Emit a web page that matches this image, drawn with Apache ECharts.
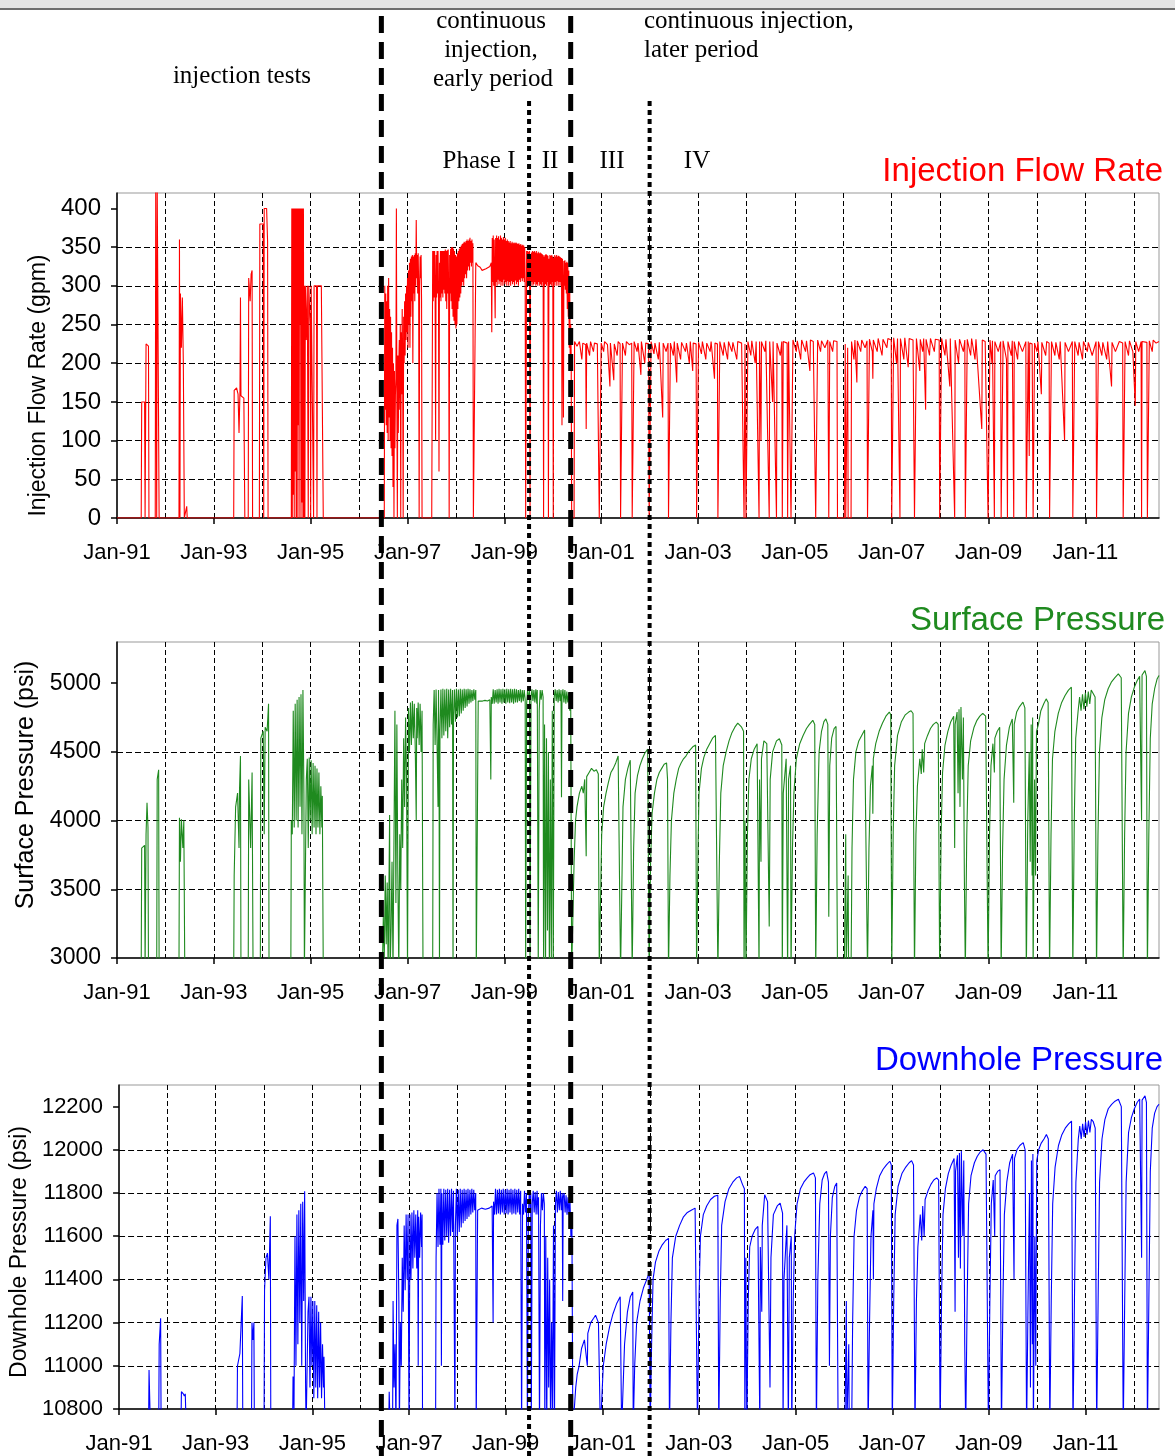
<!DOCTYPE html>
<html>
<head>
<meta charset="utf-8">
<title>Injection history</title>
<script src="https://cdn.jsdelivr.net/npm/echarts@6/dist/echarts.min.js"></script>
<style>
  html, body { margin: 0; padding: 0; background: #fff; }
  #main { width: 1175px; height: 1456px; }
</style>
</head>
<body>
<div id="main"></div>
<script>
// all x values are decimal years
// injection flow rate, gpm
const flowRate = [
  [1991.00, 0], [1991.50, 0], [1991.51, 150], [1991.57, 150], [1991.58, 0],
  [1991.59, 0], [1991.60, 225], [1991.65, 222], [1991.66, 0],
  [1991.79, 0], [1991.80, 430], [1991.82, 0], [1991.83, 430], [1991.86, 430], [1991.87, 0],
  [1992.28, 0], [1992.29, 360], [1992.30, 0], [1992.31, 290], [1992.33, 220], [1992.35, 285], [1992.37, 200], [1992.39, 0],
  [1992.43, 0], [1992.44, 15], [1992.45, 0],
  [1993.41, 0], [1993.42, 165], [1993.47, 168], [1993.50, 160], [1993.52, 110], [1993.54, 165], [1993.55, 285], [1993.56, 158], [1993.62, 155], [1993.64, 0],
  [1993.71, 0], [1993.72, 310], [1993.75, 280], [1993.77, 315], [1993.79, 320], [1993.80, 0],
  [1993.94, 0], [1993.95, 380], [1994.02, 380], [1994.03, 0], [1994.04, 400], [1994.09, 400], [1994.11, 357], [1994.12, 0],
  [1994.60, 0], [1994.61, 400], [1994.62, 0], [1994.63, 400], [1994.64, 30], [1994.65, 400], [1994.66, 0], [1994.67, 400],
  [1994.68, 60], [1994.69, 400], [1994.70, 0], [1994.71, 400], [1994.72, 0], [1994.73, 400], [1994.74, 120], [1994.75, 400],
  [1994.76, 0], [1994.77, 400], [1994.78, 250], [1994.79, 400], [1994.80, 0], [1994.81, 400], [1994.82, 20], [1994.83, 400],
  [1994.84, 0], [1994.85, 400], [1994.86, 0], [1994.87, 300], [1994.88, 0], [1994.89, 300], [1994.91, 230], [1994.93, 300],
  [1994.95, 0], [1994.96, 300], [1994.99, 250], [1995.00, 0], [1995.01, 300], [1995.05, 300], [1995.06, 0], [1995.07, 300],
  [1995.12, 300], [1995.13, 0], [1995.14, 300], [1995.22, 300], [1995.26, 0],
  [1996.52, 0], [1996.53, 300], [1996.54, 140], [1996.55, 290], [1996.56, 120], [1996.57, 280], [1996.58, 110], [1996.59, 300],
  [1996.60, 100], [1996.61, 310], [1996.62, 130], [1996.63, 270], [1996.64, 100], [1996.65, 260], [1996.66, 90], [1996.67, 240],
  [1996.68, 80], [1996.69, 220], [1996.70, 40], [1996.71, 200], [1996.72, 0], [1996.73, 190], [1996.74, 90], [1996.75, 160],
  [1996.76, 180], [1996.77, 400], [1996.78, 150], [1996.79, 0], [1996.80, 210], [1996.81, 110], [1996.82, 200], [1996.83, 230],
  [1996.84, 140], [1996.85, 250], [1996.86, 0], [1996.87, 240], [1996.88, 160], [1996.89, 270], [1996.90, 190], [1996.91, 0],
  [1996.92, 260], [1996.93, 200], [1996.94, 280], [1996.95, 210], [1996.96, 290], [1996.97, 230], [1996.98, 300], [1996.99, 240],
  [1997.00, 310], [1997.01, 220], [1997.02, 320], [1997.03, 250], [1997.04, 330], [1997.05, 220], [1997.06, 335], [1997.07, 260],
  [1997.08, 338], [1997.09, 280], [1997.10, 340], [1997.11, 200], [1997.12, 338], [1997.13, 290], [1997.14, 340], [1997.15, 280],
  [1997.16, 342], [1997.17, 300], [1997.18, 385], [1997.19, 310], [1997.20, 340], [1997.21, 290], [1997.22, 342], [1997.23, 300],
  [1997.24, 0], [1997.25, 300], [1997.26, 338], [1997.27, 310], [1997.28, 340], [1997.29, 280], [1997.30, 0],
  [1997.50, 0], [1997.52, 345], [1997.53, 280], [1997.54, 345], [1997.55, 285], [1997.56, 345], [1997.57, 290], [1997.58, 100],
  [1997.59, 340], [1997.60, 285], [1997.61, 345], [1997.62, 290], [1997.63, 345], [1997.64, 280], [1997.65, 60], [1997.66, 330],
  [1997.67, 285], [1997.68, 345], [1997.69, 280], [1997.70, 345], [1997.71, 290], [1997.72, 345], [1997.73, 285], [1997.74, 345],
  [1997.75, 295], [1997.76, 345], [1997.77, 290], [1997.78, 347], [1997.79, 280], [1997.80, 345], [1997.81, 270], [1997.82, 346],
  [1997.83, 290], [1997.84, 347], [1997.85, 285], [1997.86, 0], [1997.87, 340], [1997.88, 290], [1997.89, 348], [1997.90, 280],
  [1997.91, 350], [1997.92, 270], [1997.93, 350], [1997.94, 260], [1997.95, 348], [1997.96, 255], [1997.97, 345], [1997.98, 250],
  [1997.99, 340], [1998.00, 245], [1998.01, 338], [1998.02, 250], [1998.03, 342], [1998.04, 270], [1998.05, 345], [1998.06, 280],
  [1998.07, 348], [1998.08, 285], [1998.09, 350], [1998.10, 290], [1998.11, 352], [1998.12, 300], [1998.13, 354], [1998.14, 305],
  [1998.15, 355], [1998.16, 300], [1998.17, 357], [1998.18, 310], [1998.19, 356], [1998.20, 315], [1998.21, 358], [1998.22, 310],
  [1998.23, 360], [1998.24, 320], [1998.25, 358], [1998.26, 325], [1998.27, 360], [1998.28, 320], [1998.29, 362], [1998.30, 330],
  [1998.31, 358], [1998.32, 325], [1998.33, 360], [1998.34, 330], [1998.35, 355], [1998.36, 0],
  [1998.40, 0], [1998.41, 330], [1998.45, 326], [1998.50, 324], [1998.54, 320], [1998.58, 318], [1998.62, 322], [1998.66, 324],
  [1998.70, 325], [1998.73, 330],
  [1998.74, 240], [1998.75, 362], [1998.76, 305], [1998.77, 365], [1998.78, 300], [1998.79, 360], [1998.80, 310], [1998.81, 258],
  [1998.82, 362], [1998.83, 305], [1998.84, 365], [1998.85, 300], [1998.86, 362], [1998.87, 308], [1998.88, 364], [1998.89, 302],
  [1998.90, 360], [1998.91, 306], [1998.92, 365], [1998.93, 300], [1998.94, 362], [1998.95, 305], [1998.96, 360], [1998.97, 300],
  [1998.98, 363], [1998.99, 308], [1999.00, 360], [1999.01, 302], [1999.02, 362], [1999.03, 305], [1999.04, 358], [1999.05, 300],
  [1999.06, 360], [1999.07, 306], [1999.08, 358], [1999.09, 300], [1999.10, 356], [1999.11, 305], [1999.12, 358], [1999.13, 300],
  [1999.14, 355], [1999.15, 306], [1999.16, 357], [1999.17, 302], [1999.18, 355], [1999.19, 305], [1999.20, 356], [1999.21, 300],
  [1999.22, 355], [1999.23, 307], [1999.24, 356], [1999.25, 302], [1999.26, 355], [1999.27, 305], [1999.28, 354], [1999.29, 300],
  [1999.30, 355], [1999.31, 308], [1999.32, 353], [1999.33, 305], [1999.34, 354], [1999.35, 310], [1999.36, 352], [1999.37, 306],
  [1999.38, 353], [1999.39, 310], [1999.40, 352], [1999.41, 305], [1999.42, 350], [1999.43, 300], [1999.44, 0],
  [1999.45, 0], [1999.46, 345], [1999.47, 300], [1999.48, 345], [1999.49, 302], [1999.50, 344], [1999.51, 300], [1999.52, 345],
  [1999.53, 0], [1999.54, 340], [1999.55, 300], [1999.56, 343], [1999.57, 305], [1999.58, 345], [1999.59, 300], [1999.60, 344],
  [1999.61, 302], [1999.62, 345], [1999.63, 305], [1999.64, 343], [1999.65, 300], [1999.66, 345], [1999.67, 302], [1999.68, 342],
  [1999.69, 300], [1999.70, 344], [1999.71, 305], [1999.72, 342], [1999.73, 300], [1999.74, 343], [1999.75, 302], [1999.76, 342],
  [1999.77, 300], [1999.78, 341], [1999.79, 305], [1999.80, 340], [1999.81, 0], [1999.82, 338], [1999.83, 300], [1999.84, 340],
  [1999.85, 302], [1999.86, 341], [1999.87, 300], [1999.88, 340], [1999.89, 305], [1999.90, 339], [1999.91, 0], [1999.92, 335],
  [1999.93, 300], [1999.94, 340], [1999.95, 302], [1999.96, 339], [1999.97, 300], [1999.98, 340], [1999.99, 305], [2000.00, 338],
  [2000.01, 0], [2000.02, 336], [2000.03, 300], [2000.04, 340], [2000.05, 305], [2000.06, 338], [2000.07, 300], [2000.08, 340],
  [2000.09, 306], [2000.10, 338], [2000.11, 300], [2000.12, 339], [2000.13, 305], [2000.14, 338], [2000.15, 300], [2000.16, 337],
  [2000.17, 305], [2000.18, 336], [2000.19, 120], [2000.20, 335], [2000.21, 300], [2000.22, 130], [2000.23, 332], [2000.24, 300],
  [2000.25, 333], [2000.26, 295], [2000.27, 330], [2000.28, 290], [2000.29, 331], [2000.30, 270], [2000.31, 330], [2000.32, 260],
  [2000.33, 320], [2000.34, 220], [2000.35, 300], [2000.36, 200], [2000.37, 250], [2000.38, 210], [2000.39, 0],
  [2000.44, 0], [2000.45, 228], [2000.50, 222], [2000.55, 228], [2000.60, 205], [2000.62, 226], [2000.68, 224], [2000.69, 115],
  [2000.70, 226], [2000.76, 210], [2000.78, 228], [2000.84, 215], [2000.86, 226], [2000.92, 225], [2000.96, 0],
  [2000.99, 0], [2001.00, 226], [2001.05, 215], [2001.07, 228], [2001.13, 224], [2001.18, 170], [2001.19, 226], [2001.26, 178],
  [2001.27, 225], [2001.33, 210], [2001.35, 228], [2001.39, 225], [2001.40, 0],
  [2001.43, 0], [2001.44, 226], [2001.50, 210], [2001.52, 228], [2001.58, 224], [2001.63, 226], [2001.64, 0],
  [2001.67, 0], [2001.68, 228], [2001.74, 215], [2001.76, 226], [2001.82, 185], [2001.83, 228], [2001.90, 200], [2001.92, 226],
  [2001.98, 225], [2001.99, 0],
  [2002.02, 0], [2002.03, 228], [2002.09, 212], [2002.11, 226], [2002.18, 205], [2002.20, 227], [2002.27, 130], [2002.28, 226],
  [2002.34, 215], [2002.38, 226], [2002.39, 0],
  [2002.42, 0], [2002.43, 226], [2002.49, 210], [2002.51, 228], [2002.56, 175], [2002.57, 226], [2002.64, 205], [2002.66, 227],
  [2002.74, 215], [2002.76, 226], [2002.82, 200], [2002.84, 228], [2002.89, 190], [2002.90, 226], [2002.96, 225], [2002.97, 0],
  [2003.00, 0], [2003.01, 227], [2003.07, 212], [2003.09, 228], [2003.16, 205], [2003.18, 226], [2003.25, 215], [2003.27, 228],
  [2003.34, 180], [2003.35, 226], [2003.40, 225], [2003.41, 0],
  [2003.44, 0], [2003.45, 228], [2003.52, 210], [2003.54, 227], [2003.61, 205], [2003.63, 228], [2003.70, 215], [2003.72, 227],
  [2003.80, 205], [2003.82, 228], [2003.90, 226], [2003.95, 0], [2003.97, 225], [2003.99, 0],
  [2004.02, 0], [2004.03, 228], [2004.09, 210], [2004.11, 229], [2004.18, 200], [2004.20, 228], [2004.26, 0], [2004.27, 228],
  [2004.30, 100], [2004.31, 228], [2004.38, 215], [2004.40, 229], [2004.47, 0], [2004.48, 228], [2004.54, 150], [2004.55, 228],
  [2004.62, 0], [2004.63, 226], [2004.70, 210], [2004.73, 228], [2004.74, 0], [2004.76, 228], [2004.84, 226], [2004.85, 0],
  [2004.87, 228], [2004.91, 226], [2004.92, 0],
  [2004.95, 0], [2004.96, 230], [2005.03, 215], [2005.05, 229], [2005.12, 205], [2005.14, 230], [2005.22, 215], [2005.24, 229],
  [2005.31, 190], [2005.32, 230], [2005.38, 228], [2005.43, 0],
  [2005.46, 0], [2005.47, 230], [2005.53, 215], [2005.55, 229], [2005.62, 220], [2005.68, 230], [2005.70, 0], [2005.72, 228],
  [2005.78, 215], [2005.80, 229], [2005.87, 228], [2005.88, 0],
  [2006.02, 0], [2006.04, 225], [2006.05, 0], [2006.09, 220], [2006.10, 0], [2006.16, 0], [2006.17, 228], [2006.22, 205],
  [2006.24, 230], [2006.28, 175], [2006.29, 229], [2006.36, 215], [2006.38, 230], [2006.45, 220], [2006.49, 229], [2006.50, 0],
  [2006.53, 0], [2006.54, 231], [2006.60, 215], [2006.61, 180], [2006.62, 230], [2006.70, 215], [2006.72, 232], [2006.80, 210],
  [2006.82, 231], [2006.90, 220], [2006.92, 232], [2006.99, 230], [2007.00, 0],
  [2007.03, 0], [2007.04, 233], [2007.10, 200], [2007.12, 232], [2007.17, 0], [2007.18, 232], [2007.25, 205], [2007.27, 233],
  [2007.34, 195], [2007.36, 232], [2007.44, 230], [2007.47, 0],
  [2007.50, 0], [2007.51, 232], [2007.58, 190], [2007.59, 231], [2007.64, 215], [2007.66, 232], [2007.70, 140], [2007.71, 231],
  [2007.78, 210], [2007.80, 232], [2007.88, 215], [2007.90, 231], [2007.98, 230], [2007.99, 0],
  [2008.02, 0], [2008.03, 232], [2008.10, 210], [2008.12, 231], [2008.20, 170], [2008.21, 232], [2008.30, 0], [2008.31, 230],
  [2008.38, 200], [2008.40, 231], [2008.48, 215], [2008.51, 230], [2008.52, 0],
  [2008.55, 0], [2008.56, 231], [2008.63, 210], [2008.65, 232], [2008.72, 205], [2008.74, 231], [2008.86, 115], [2008.87, 230],
  [2008.93, 228], [2008.99, 0],
  [2009.02, 0], [2009.03, 230], [2009.07, 200], [2009.08, 229], [2009.12, 0], [2009.13, 228], [2009.20, 215], [2009.25, 228], [2009.26, 0],
  [2009.29, 0], [2009.30, 229], [2009.37, 205], [2009.39, 0], [2009.40, 228], [2009.47, 210], [2009.49, 229], [2009.52, 0],
  [2009.53, 228], [2009.60, 205], [2009.62, 228], [2009.70, 215], [2009.77, 228], [2009.78, 0],
  [2009.81, 0], [2009.82, 228], [2009.84, 80], [2009.85, 226], [2009.90, 225], [2009.92, 0], [2009.95, 226], [2010.00, 215],
  [2010.02, 228], [2010.09, 160], [2010.10, 227], [2010.18, 210], [2010.20, 228], [2010.25, 226], [2010.26, 0],
  [2010.29, 0], [2010.30, 228], [2010.37, 210], [2010.39, 227], [2010.46, 205], [2010.48, 228], [2010.57, 100], [2010.58, 227],
  [2010.65, 215], [2010.73, 228], [2010.74, 0],
  [2010.77, 0], [2010.78, 228], [2010.85, 210], [2010.87, 227], [2010.94, 205], [2010.96, 228], [2011.04, 215], [2011.06, 227],
  [2011.14, 210], [2011.22, 228], [2011.23, 0],
  [2011.26, 0], [2011.27, 228], [2011.34, 210], [2011.36, 227], [2011.44, 205], [2011.46, 228], [2011.54, 170], [2011.55, 227],
  [2011.62, 215], [2011.70, 228], [2011.77, 226], [2011.78, 0],
  [2011.81, 0], [2011.82, 228], [2011.89, 210], [2011.91, 229], [2011.98, 215], [2012.03, 145], [2012.04, 228], [2012.10, 215],
  [2012.15, 228], [2012.16, 0], [2012.17, 228], [2012.27, 227], [2012.28, 0],
  [2012.31, 0], [2012.32, 229], [2012.38, 215], [2012.40, 230], [2012.46, 226], [2012.52, 228]
];

// surface pressure, psi (values under 3000 fall below the axis)
const surfacePressure = [
  [1991.00, 2900], [1991.50, 2900], [1991.51, 3800], [1991.57, 3820], [1991.58, 2900], [1991.60, 3900], [1991.62, 4130],
  [1991.64, 3950], [1991.65, 2900],
  [1991.82, 2900], [1991.83, 4300], [1991.86, 4370], [1991.87, 2900],
  [1992.28, 2900], [1992.29, 4020], [1992.31, 3700], [1992.33, 4010], [1992.36, 3800], [1992.38, 4000], [1992.40, 2900],
  [1993.41, 2900], [1993.42, 3600], [1993.45, 4100], [1993.49, 4200], [1993.52, 3800], [1993.53, 4220], [1993.55, 4470], [1993.56, 2900],
  [1993.71, 2900], [1993.72, 4300], [1993.76, 3800], [1993.79, 4350], [1993.81, 2900],
  [1993.96, 2900], [1993.97, 4600], [1994.02, 4650], [1994.04, 3900], [1994.06, 4680], [1994.10, 4650], [1994.13, 4850], [1994.14, 2900],
  [1994.59, 2900], [1994.60, 4000], [1994.62, 3900], [1994.64, 4800], [1994.66, 3950], [1994.68, 4850], [1994.70, 4000],
  [1994.72, 4880], [1994.74, 3950], [1994.76, 4900], [1994.78, 4100], [1994.80, 4920], [1994.82, 3900], [1994.84, 4950],
  [1994.86, 4200], [1994.87, 2900],
  [1994.90, 2900], [1994.91, 4300], [1994.93, 4450], [1994.95, 3800], [1994.97, 4460], [1994.99, 4000], [1995.01, 4440],
  [1995.03, 3900], [1995.05, 4420], [1995.07, 3950], [1995.09, 4400], [1995.11, 3900], [1995.13, 4380], [1995.15, 3950],
  [1995.17, 4350], [1995.19, 3900], [1995.21, 4250], [1995.23, 3950], [1995.24, 4180], [1995.26, 2900],
  [1996.48, 2900], [1996.50, 3300], [1996.52, 3000], [1996.54, 3600], [1996.56, 3100], [1996.58, 3550], [1996.60, 2900],
  [1996.63, 4040], [1996.64, 2900], [1996.66, 3200], [1996.68, 3700], [1996.70, 2900], [1996.74, 4800], [1996.76, 3400],
  [1996.78, 4700], [1996.80, 3600], [1996.82, 2900], [1996.84, 3900], [1996.86, 3500], [1996.88, 4300], [1996.90, 3800],
  [1996.92, 4600], [1996.94, 4100], [1996.96, 4750], [1996.98, 4300], [1997.00, 2900], [1997.02, 4820], [1997.04, 4500],
  [1997.06, 4860], [1997.08, 4550], [1997.10, 4870], [1997.12, 4600], [1997.14, 4850], [1997.16, 4520], [1997.18, 4000],
  [1997.19, 4820], [1997.20, 4600], [1997.22, 4860], [1997.24, 4550], [1997.26, 4850], [1997.28, 4500], [1997.30, 4800], [1997.32, 2900],
  [1997.52, 2900], [1997.53, 4700], [1997.55, 4950], [1997.57, 4550], [1997.59, 4955], [1997.61, 4560], [1997.63, 4100],
  [1997.64, 4950], [1997.65, 4580], [1997.66, 2900], [1997.67, 4650], [1997.69, 4955], [1997.71, 4600], [1997.73, 4960],
  [1997.75, 4620], [1997.77, 4955], [1997.79, 4650], [1997.81, 4960], [1997.83, 4600], [1997.85, 4955], [1997.87, 4680],
  [1997.89, 4960], [1997.91, 4700], [1997.93, 4950], [1997.94, 2900], [1997.95, 4750], [1997.97, 4955], [1997.99, 4720],
  [1998.01, 4960], [1998.03, 4750], [1998.05, 4955], [1998.07, 4760], [1998.09, 4960], [1998.11, 4780], [1998.13, 4955],
  [1998.15, 4800], [1998.17, 4960], [1998.19, 4820], [1998.21, 4955], [1998.23, 4830], [1998.25, 4960], [1998.27, 4850],
  [1998.29, 4955], [1998.31, 4860], [1998.33, 4950], [1998.35, 4870], [1998.37, 4955], [1998.39, 4880], [1998.41, 4950], [1998.42, 2900],
  [1998.45, 2900], [1998.46, 4870], [1998.50, 4880], [1998.55, 4870], [1998.60, 4875], [1998.65, 4870], [1998.70, 4880],
  [1998.72, 4300], [1998.73, 4900], [1998.75, 4850], [1998.77, 4955], [1998.79, 4850], [1998.81, 4950], [1998.83, 4860],
  [1998.85, 4955], [1998.87, 4850], [1998.89, 4960], [1998.91, 4860], [1998.93, 4955], [1998.95, 4850], [1998.97, 4960],
  [1998.99, 4860], [1999.01, 4955], [1999.03, 4850], [1999.05, 4960], [1999.07, 4860], [1999.09, 4955], [1999.11, 4855],
  [1999.13, 4960], [1999.15, 4860], [1999.17, 4955], [1999.19, 4850], [1999.21, 4960], [1999.23, 4860], [1999.25, 4955],
  [1999.27, 4860], [1999.29, 4950], [1999.31, 4870], [1999.33, 4955], [1999.35, 4860], [1999.37, 4950], [1999.39, 4870],
  [1999.41, 4950], [1999.43, 4880], [1999.44, 2900],
  [1999.46, 4850], [1999.48, 4950], [1999.50, 4880], [1999.52, 4950], [1999.53, 2900], [1999.55, 4900], [1999.57, 4955],
  [1999.59, 4870], [1999.61, 4950], [1999.63, 4860], [1999.65, 4955], [1999.67, 4850], [1999.68, 4950], [1999.70, 2900],
  [1999.72, 4800], [1999.74, 4950], [1999.76, 4880], [1999.78, 4950], [1999.80, 4900], [1999.81, 2900], [1999.83, 4700],
  [1999.85, 2900], [1999.87, 4600], [1999.89, 3200], [1999.91, 4500], [1999.93, 2900], [1999.95, 4300], [1999.97, 3000],
  [1999.99, 4800], [2000.01, 2900], [2000.03, 4900], [2000.05, 4955], [2000.07, 4870], [2000.09, 4950], [2000.11, 4860],
  [2000.13, 4955], [2000.15, 4870], [2000.17, 4950], [2000.18, 4170], [2000.19, 4900], [2000.21, 4955], [2000.23, 4860],
  [2000.25, 4950], [2000.27, 4850], [2000.29, 4940], [2000.31, 4860], [2000.33, 4930], [2000.35, 4800], [2000.37, 4900], [2000.39, 2900],
  [2000.42, 2900], [2000.44, 3700], [2000.47, 4000], [2000.50, 4100], [2000.55, 4200], [2000.60, 4250], [2000.63, 4200],
  [2000.66, 4300], [2000.69, 3740], [2000.70, 4320], [2000.75, 4350], [2000.80, 4380], [2000.85, 4360], [2000.90, 4370],
  [2000.94, 4340], [2000.96, 2900],
  [2000.99, 3500], [2001.01, 3900], [2001.05, 4100], [2001.10, 4200], [2001.15, 4280], [2001.20, 4350], [2001.25, 4380],
  [2001.30, 4420], [2001.35, 4470], [2001.38, 4480], [2001.40, 2900],
  [2001.43, 3600], [2001.45, 4100], [2001.50, 4300], [2001.55, 4380], [2001.60, 4440], [2001.63, 4450], [2001.64, 2900],
  [2001.67, 3800], [2001.70, 4200], [2001.75, 4330], [2001.80, 4400], [2001.85, 4450], [2001.90, 4490], [2001.96, 4520], [2001.99, 2900],
  [2002.02, 3700], [2002.05, 4050], [2002.10, 4200], [2002.15, 4300], [2002.20, 4350], [2002.25, 4380], [2002.30, 4410],
  [2002.35, 4420], [2002.37, 4300], [2002.39, 2900],
  [2002.42, 3600], [2002.45, 4000], [2002.50, 4200], [2002.55, 4300], [2002.60, 4380], [2002.65, 4420], [2002.70, 4450],
  [2002.75, 4470], [2002.80, 4500], [2002.85, 4520], [2002.90, 4540], [2002.95, 4550], [2002.97, 2900],
  [2003.00, 3800], [2003.02, 4200], [2003.07, 4380], [2003.12, 4460], [2003.18, 4520], [2003.24, 4560], [2003.30, 4600],
  [2003.36, 4620], [2003.39, 4610], [2003.41, 2900],
  [2003.44, 3700], [2003.47, 4200], [2003.52, 4400], [2003.58, 4500], [2003.64, 4580], [2003.70, 4640], [2003.76, 4680],
  [2003.82, 4710], [2003.86, 4700], [2003.90, 4680], [2003.94, 4650], [2003.95, 2900], [2003.97, 4000], [2003.99, 2900],
  [2004.02, 3900], [2004.05, 4300], [2004.10, 4450], [2004.16, 4520], [2004.22, 4560], [2004.26, 2900], [2004.27, 4300],
  [2004.30, 3700], [2004.31, 4450], [2004.36, 4580], [2004.42, 4560], [2004.47, 3230], [2004.49, 4300], [2004.54, 4500],
  [2004.62, 4580], [2004.68, 4596], [2004.73, 4550], [2004.74, 2900], [2004.76, 4200], [2004.82, 4450], [2004.85, 2900],
  [2004.87, 4300], [2004.91, 4400], [2004.92, 2900],
  [2004.95, 3800], [2004.98, 4200], [2005.03, 4450], [2005.10, 4560], [2005.17, 4620], [2005.24, 4670], [2005.30, 4700],
  [2005.37, 4730], [2005.41, 4700], [2005.43, 2900],
  [2005.46, 3900], [2005.50, 4500], [2005.55, 4650], [2005.60, 4720], [2005.64, 4740], [2005.68, 4700], [2005.70, 3300],
  [2005.72, 4400], [2005.76, 4600], [2005.81, 4670], [2005.85, 4685], [2005.88, 2900],
  [2006.02, 2900], [2006.05, 3900], [2006.06, 2900], [2006.10, 3600], [2006.11, 2900], [2006.16, 2900], [2006.18, 3800],
  [2006.21, 4300], [2006.26, 4500], [2006.32, 4580], [2006.38, 4620], [2006.44, 4660], [2006.48, 4650], [2006.50, 2900],
  [2006.53, 3800], [2006.56, 4250], [2006.60, 4400], [2006.61, 4050], [2006.62, 4450], [2006.67, 4560], [2006.74, 4650],
  [2006.81, 4710], [2006.88, 4760], [2006.95, 4790], [2006.98, 4770], [2007.00, 2900],
  [2007.03, 3900], [2007.06, 4400], [2007.12, 4620], [2007.20, 4720], [2007.28, 4770], [2007.35, 4790], [2007.40, 4800],
  [2007.44, 4780], [2007.47, 2900],
  [2007.50, 3900], [2007.53, 4250], [2007.58, 4450], [2007.61, 4340], [2007.63, 4520], [2007.66, 4350], [2007.68, 4560],
  [2007.74, 4620], [2007.80, 4670], [2007.86, 4700], [2007.92, 4717], [2007.96, 4700], [2007.99, 2900],
  [2008.02, 3900], [2008.05, 4350], [2008.10, 4550], [2008.16, 4650], [2008.22, 4720], [2008.28, 4760], [2008.30, 3800],
  [2008.31, 4700], [2008.35, 4790], [2008.37, 4200], [2008.39, 4810], [2008.41, 4100], [2008.43, 4826], [2008.46, 4300],
  [2008.48, 4750], [2008.50, 3600], [2008.52, 2900],
  [2008.55, 3900], [2008.58, 4400], [2008.63, 4580], [2008.70, 4680], [2008.76, 4730], [2008.82, 4760], [2008.88, 4780],
  [2008.94, 4760], [2008.99, 2900],
  [2009.02, 3900], [2009.05, 4400], [2009.09, 4560], [2009.12, 4350], [2009.13, 4600], [2009.18, 4650], [2009.23, 4680], [2009.26, 2900],
  [2009.29, 3800], [2009.32, 4300], [2009.37, 4550], [2009.43, 4680], [2009.49, 4740], [2009.52, 4130], [2009.53, 4700],
  [2009.58, 4790], [2009.64, 4830], [2009.71, 4862], [2009.75, 4820], [2009.78, 2900],
  [2009.81, 4000], [2009.84, 4500], [2009.86, 3700], [2009.88, 4700], [2009.90, 3600], [2009.91, 4750], [2009.92, 2900],
  [2009.95, 4300], [2009.97, 3600], [2009.99, 4650], [2010.03, 4700], [2010.08, 4800], [2010.14, 4850], [2010.19, 4886],
  [2010.23, 4860], [2010.26, 2900],
  [2010.29, 3900], [2010.32, 4450], [2010.37, 4650], [2010.44, 4780], [2010.51, 4860], [2010.58, 4910], [2010.65, 4950],
  [2010.71, 4971], [2010.74, 2900],
  [2010.77, 4000], [2010.80, 4600], [2010.85, 4800], [2010.88, 4900], [2010.91, 4800], [2010.94, 4920], [2010.97, 4810],
  [2011.00, 4930], [2011.03, 4830], [2011.06, 4940], [2011.09, 4850], [2011.12, 4950], [2011.16, 4950], [2011.20, 4900], [2011.23, 2900],
  [2011.26, 3900], [2011.29, 4500], [2011.34, 4750], [2011.40, 4880], [2011.47, 4960], [2011.54, 5010], [2011.61, 5040],
  [2011.68, 5068], [2011.74, 5040], [2011.78, 2900],
  [2011.81, 3900], [2011.84, 4500], [2011.89, 4780], [2011.95, 4900], [2012.01, 4970], [2012.07, 5020], [2012.12, 5050],
  [2012.16, 4000], [2012.17, 5060], [2012.23, 5092], [2012.26, 5050], [2012.28, 2900],
  [2012.31, 3900], [2012.34, 4600], [2012.38, 4850], [2012.43, 4960], [2012.48, 5030], [2012.52, 5056]
];

// downhole pressure, psi (values under 10800 fall below the axis)
const downholePressure = [
  [1991.00, 10700], [1991.61, 10700], [1991.62, 10980], [1991.64, 10980], [1991.65, 10700],
  [1991.82, 10700], [1991.83, 11100], [1991.86, 11220], [1991.87, 10700],
  [1992.28, 10700], [1992.29, 10880], [1992.33, 10870], [1992.35, 10860], [1992.37, 10870], [1992.39, 10700],
  [1993.44, 10700], [1993.45, 11000], [1993.50, 11057], [1993.53, 11050], [1993.55, 11323], [1993.56, 10700],
  [1993.74, 10700], [1993.75, 11200], [1993.77, 11120], [1993.79, 11200], [1993.80, 10700],
  [1994.00, 10700], [1994.01, 11350], [1994.04, 11500], [1994.07, 11522], [1994.10, 11400], [1994.13, 11692], [1994.14, 10700],
  [1994.59, 10700], [1994.60, 10950], [1994.62, 10800], [1994.64, 11600], [1994.66, 11000], [1994.68, 11700], [1994.70, 11100],
  [1994.72, 11720], [1994.74, 11200], [1994.76, 11750], [1994.78, 11000], [1994.80, 11760], [1994.82, 11300], [1994.84, 11808],
  [1994.86, 10900], [1994.87, 10700],
  [1994.90, 10700], [1994.91, 11250], [1994.93, 11320], [1994.95, 10900], [1994.97, 11320], [1994.99, 11000], [1995.01, 11300],
  [1995.03, 10850], [1995.05, 11300], [1995.07, 10900], [1995.09, 11280], [1995.11, 10850], [1995.13, 11250], [1995.15, 10900],
  [1995.17, 11200], [1995.19, 10850], [1995.21, 11100], [1995.23, 10900], [1995.24, 11042], [1995.26, 10700],
  [1996.58, 10700], [1996.59, 10880], [1996.61, 10700],
  [1996.66, 10700], [1996.67, 11300], [1996.69, 10900], [1996.71, 11100], [1996.73, 10700], [1996.75, 11650], [1996.77, 11680],
  [1996.79, 11300], [1996.80, 10700], [1996.82, 11200], [1996.84, 11000], [1996.86, 11500], [1996.88, 11250], [1996.90, 11650],
  [1996.92, 11350], [1996.94, 11700], [1996.96, 11400], [1996.98, 11700], [1997.00, 10700], [1997.02, 11700], [1997.04, 11400],
  [1997.06, 11710], [1997.08, 11450], [1997.10, 11720], [1997.12, 11500], [1997.14, 11700], [1997.16, 11450], [1997.18, 11720],
  [1997.19, 11000], [1997.20, 11690], [1997.22, 11500], [1997.24, 11710], [1997.26, 11550], [1997.27, 11700], [1997.28, 10700],
  [1997.55, 10700], [1997.56, 11500], [1997.58, 11800], [1997.60, 11550], [1997.62, 11820], [1997.64, 11560], [1997.66, 11820],
  [1997.67, 11000], [1997.68, 11800], [1997.70, 11560], [1997.72, 11820], [1997.74, 11580], [1997.76, 11815], [1997.78, 11600],
  [1997.80, 11820], [1997.82, 11570], [1997.84, 11815], [1997.86, 11600], [1997.88, 11820], [1997.90, 11620], [1997.92, 11810],
  [1997.95, 10700], [1997.96, 11650], [1997.98, 11820], [1998.00, 11600], [1998.02, 11815], [1998.04, 11620], [1998.06, 11820],
  [1998.08, 11640], [1998.10, 11815], [1998.12, 11660], [1998.14, 11820], [1998.16, 11670], [1998.18, 11815], [1998.20, 11680],
  [1998.22, 11820], [1998.24, 11690], [1998.26, 11815], [1998.28, 11700], [1998.30, 11820], [1998.32, 11710], [1998.34, 11815],
  [1998.36, 11720], [1998.38, 11800], [1998.39, 10700],
  [1998.41, 10700], [1998.42, 11720], [1998.50, 11730], [1998.58, 11725], [1998.66, 11730], [1998.72, 11740], [1998.74, 11200],
  [1998.75, 11760], [1998.77, 11700], [1998.79, 11820], [1998.81, 11700], [1998.83, 11815], [1998.85, 11705], [1998.87, 11820],
  [1998.89, 11700], [1998.91, 11815], [1998.93, 11710], [1998.95, 11820], [1998.97, 11700], [1998.99, 11815], [1999.01, 11705],
  [1999.03, 11820], [1999.05, 11700], [1999.07, 11815], [1999.09, 11710], [1999.11, 11820], [1999.13, 11700], [1999.15, 11815],
  [1999.17, 11705], [1999.19, 11820], [1999.21, 11700], [1999.23, 11815], [1999.25, 11710], [1999.27, 11820], [1999.29, 11700],
  [1999.31, 11810], [1999.33, 10700], [1999.35, 11750], [1999.37, 11700], [1999.39, 11810], [1999.41, 11710], [1999.43, 11800], [1999.45, 10700],
  [1999.47, 11700], [1999.49, 11810], [1999.51, 11710], [1999.52, 11800], [1999.53, 10700], [1999.55, 11750], [1999.57, 11810],
  [1999.59, 11710], [1999.61, 11805], [1999.63, 11700], [1999.65, 11810], [1999.67, 11700], [1999.68, 11780], [1999.70, 10700],
  [1999.72, 11650], [1999.74, 11800], [1999.76, 11720], [1999.78, 11800], [1999.80, 11750], [1999.81, 10700], [1999.83, 11600],
  [1999.85, 10700], [1999.87, 11500], [1999.89, 10900], [1999.91, 11400], [1999.93, 10700], [1999.95, 11200], [1999.97, 10800],
  [1999.99, 11650], [2000.01, 10700], [2000.03, 11750], [2000.05, 11810], [2000.07, 11710], [2000.09, 11805], [2000.11, 11720],
  [2000.13, 11810], [2000.15, 11720], [2000.17, 11800], [2000.18, 11300], [2000.19, 11780], [2000.21, 11800], [2000.23, 11710],
  [2000.25, 11790], [2000.27, 11700], [2000.29, 11780], [2000.31, 11700], [2000.33, 11770], [2000.35, 11600], [2000.37, 11700], [2000.39, 10700],
  [2000.42, 10700], [2000.45, 10900], [2000.48, 10960], [2000.52, 11000], [2000.57, 11080], [2000.63, 11120], [2000.69, 11000],
  [2000.70, 11150], [2000.76, 11200], [2000.82, 11220], [2000.86, 11234], [2000.92, 11200], [2000.96, 10700],
  [2000.99, 10850], [2001.02, 11000], [2001.08, 11100], [2001.15, 11180], [2001.22, 11240], [2001.30, 11290], [2001.37, 11320], [2001.40, 10700],
  [2001.43, 10900], [2001.46, 11100], [2001.52, 11250], [2001.58, 11320], [2001.63, 11342], [2001.64, 10700],
  [2001.67, 11000], [2001.71, 11200], [2001.78, 11300], [2001.85, 11360], [2001.92, 11400], [2001.97, 11430], [2001.99, 10700],
  [2002.02, 11100], [2002.05, 11400], [2002.10, 11480], [2002.17, 11530], [2002.24, 11560], [2002.31, 11580], [2002.37, 11590], [2002.39, 10700],
  [2002.42, 11200], [2002.45, 11500], [2002.52, 11600], [2002.60, 11650], [2002.68, 11690], [2002.76, 11710], [2002.84, 11720],
  [2002.92, 11730], [2002.96, 11735], [2002.97, 10700],
  [2003.00, 11300], [2003.03, 11600], [2003.09, 11700], [2003.16, 11740], [2003.24, 11770], [2003.32, 11785], [2003.39, 11790], [2003.41, 10700],
  [2003.44, 11300], [2003.47, 11650], [2003.54, 11760], [2003.62, 11820], [2003.70, 11850], [2003.78, 11870], [2003.84, 11877],
  [2003.90, 11840], [2003.94, 11820], [2003.95, 10700], [2003.97, 11500], [2003.99, 10700],
  [2004.02, 11300], [2004.05, 11550], [2004.10, 11600], [2004.16, 11630], [2004.22, 11645], [2004.26, 10700], [2004.27, 11550],
  [2004.30, 11250], [2004.31, 11650], [2004.36, 11792], [2004.42, 11760], [2004.47, 10900], [2004.49, 11500], [2004.54, 11700],
  [2004.62, 11740], [2004.68, 11753], [2004.73, 11707], [2004.74, 10700], [2004.76, 11400], [2004.82, 11650], [2004.85, 10700],
  [2004.87, 11500], [2004.91, 11600], [2004.92, 10700],
  [2004.95, 11300], [2004.98, 11600], [2005.03, 11750], [2005.10, 11820], [2005.17, 11850], [2005.24, 11870], [2005.30, 11885],
  [2005.37, 11893], [2005.41, 11870], [2005.43, 10700],
  [2005.46, 11400], [2005.50, 11750], [2005.55, 11860], [2005.60, 11890], [2005.64, 11900], [2005.68, 11850], [2005.70, 11000],
  [2005.72, 11600], [2005.76, 11780], [2005.81, 11830], [2005.85, 11846], [2005.88, 10700],
  [2006.02, 10700], [2006.05, 11300], [2006.06, 10700], [2006.10, 11100], [2006.11, 10700], [2006.16, 10700], [2006.18, 11200],
  [2006.21, 11600], [2006.26, 11720], [2006.32, 11780], [2006.38, 11810], [2006.44, 11831], [2006.48, 11820], [2006.50, 10700],
  [2006.53, 11200], [2006.56, 11600], [2006.60, 11720], [2006.61, 11400], [2006.62, 11750], [2006.67, 11820], [2006.74, 11880],
  [2006.81, 11910], [2006.88, 11930], [2006.95, 11947], [2006.98, 11930], [2007.00, 10700],
  [2007.03, 11300], [2007.06, 11700], [2007.12, 11830], [2007.20, 11890], [2007.28, 11920], [2007.35, 11940], [2007.40, 11950],
  [2007.44, 11930], [2007.47, 10700],
  [2007.50, 11300], [2007.53, 11550], [2007.58, 11700], [2007.61, 11580], [2007.63, 11740], [2007.66, 11600], [2007.68, 11770],
  [2007.74, 11810], [2007.80, 11840], [2007.86, 11860], [2007.92, 11870], [2007.96, 11860], [2007.99, 10700],
  [2008.02, 11300], [2008.05, 11700], [2008.10, 11820], [2008.16, 11890], [2008.22, 11930], [2008.28, 11960], [2008.30, 11250],
  [2008.31, 11900], [2008.35, 11975], [2008.37, 11500], [2008.39, 11985], [2008.41, 11450], [2008.43, 11994], [2008.46, 11600],
  [2008.48, 11950], [2008.50, 11100], [2008.52, 10700],
  [2008.55, 11300], [2008.58, 11750], [2008.63, 11880], [2008.70, 11940], [2008.76, 11970], [2008.82, 11990], [2008.88, 12000],
  [2008.94, 11980], [2008.99, 10700],
  [2009.02, 11300], [2009.05, 11750], [2009.09, 11860], [2009.12, 11600], [2009.13, 11880], [2009.18, 11900], [2009.23, 11908], [2009.26, 10700],
  [2009.29, 11300], [2009.32, 11700], [2009.37, 11850], [2009.43, 11940], [2009.49, 11980], [2009.52, 11400], [2009.53, 11960],
  [2009.58, 12000], [2009.64, 12020], [2009.71, 12033], [2009.75, 12000], [2009.78, 10700],
  [2009.81, 11300], [2009.84, 11800], [2009.86, 10900], [2009.88, 11950], [2009.90, 11100], [2009.91, 11980], [2009.92, 10700],
  [2009.95, 11600], [2009.97, 11000], [2009.99, 11950], [2010.03, 12000], [2010.08, 12030], [2010.14, 12050], [2010.19, 12071],
  [2010.23, 12050], [2010.26, 10700],
  [2010.29, 11300], [2010.32, 11750], [2010.37, 11920], [2010.44, 12020], [2010.51, 12070], [2010.58, 12100], [2010.65, 12120],
  [2010.71, 12133], [2010.74, 10700],
  [2010.77, 11300], [2010.80, 11850], [2010.85, 12050], [2010.88, 12110], [2010.91, 12050], [2010.94, 12120], [2010.97, 12060],
  [2011.00, 12130], [2011.03, 12070], [2011.06, 12135], [2011.09, 12080], [2011.12, 12141], [2011.16, 12130], [2011.20, 12100], [2011.23, 10700],
  [2011.26, 11300], [2011.29, 11850], [2011.34, 12050], [2011.40, 12140], [2011.47, 12190], [2011.54, 12210], [2011.61, 12225],
  [2011.68, 12234], [2011.74, 12200], [2011.78, 10700],
  [2011.81, 11300], [2011.84, 11850], [2011.89, 12080], [2011.95, 12150], [2012.01, 12190], [2012.07, 12220], [2012.12, 12235],
  [2012.16, 11500], [2012.17, 12230], [2012.23, 12250], [2012.26, 12220], [2012.28, 10700],
  [2012.31, 11300], [2012.34, 11900], [2012.38, 12100], [2012.43, 12170], [2012.48, 12200], [2012.52, 12211]
];

const yearLabels = [1991, 1993, 1995, 1997, 1999, 2001, 2003, 2005, 2007, 2009, 2011];
const flowTicks = [0, 50, 100, 150, 200, 250, 300, 350, 400];
const surfaceTicks = [3000, 3500, 4000, 4500, 5000];
const downholeTicks = [10800, 11000, 11200, 11400, 11600, 11800, 12000, 12200];

// period boundaries (thick dashes) and phase boundaries (dots), decimal years
const periodBounds = [1996.46, 2000.37];
const phaseBounds = [1999.51, 2002.0];

const SANS = 'Liberation Sans, Arial, sans-serif';
const SERIF = 'Liberation Serif, Times New Roman, serif';
const X_MIN = 1991;
const X_MAX = 2012.52;

const chart = echarts.init(document.getElementById('main'), null, { renderer: 'canvas' });

// yearly grid lines, carries the data
function gridXAxis(gridIndex) {
  return {
    type: 'value',
    gridIndex: gridIndex,
    position: 'bottom',
    min: X_MIN,
    max: X_MAX,
    interval: 1,
    axisLine: { show: true, onZero: false, lineStyle: { color: '#000', width: 1.5 } },
    axisTick: { show: false },
    axisLabel: { show: false },
    splitLine: {
      show: true, showMinLine: false, showMaxLine: false,
      lineStyle: { color: '#000', width: 1, type: [5, 3] }
    }
  };
}

// ticks and labels every second January
function labelXAxis(gridIndex) {
  return {
    type: 'value',
    gridIndex: gridIndex,
    position: 'bottom',
    min: X_MIN,
    max: X_MAX,
    interval: 2,
    axisLine: { show: false, onZero: false },
    axisTick: { show: true, customValues: yearLabels, length: 6, lineStyle: { color: '#000', width: 1.5 } },
    axisLabel: {
      customValues: yearLabels,
      margin: 24,
      color: '#000',
      fontSize: 22,
      fontFamily: SANS,
      formatter: v => 'Jan-' + String(Math.round(v)).slice(2)
    },
    splitLine: { show: false }
  };
}

function yAxisFor(gridIndex, min, max, ticks, name, opts) {
  return {
    type: 'value',
    gridIndex: gridIndex,
    min: min,
    max: max,
    interval: ticks[1] - ticks[0],
    name: name,
    nameLocation: 'middle',
    nameGap: opts.gap,
    nameTextStyle: { color: '#000', fontSize: opts.nameSize, fontFamily: SANS, padding: opts.pad },
    axisLine: { show: true, lineStyle: { color: '#000', width: 1.5 } },
    axisTick: { show: true, customValues: ticks, length: 6, lineStyle: { color: '#000', width: 1.5 } },
    axisLabel: {
      customValues: ticks, margin: 16, color: '#000', fontSize: opts.labelSize, fontFamily: SANS,
      formatter: v => String(v)
    },
    splitLine: {
      show: true, showMinLine: false, showMaxLine: false,
      lineStyle: { color: '#000', width: 1, type: [6, 3] }
    }
  };
}

function lineSeries(index, data, color) {
  return {
    type: 'line',
    xAxisIndex: index,
    yAxisIndex: index,
    data: data,
    showSymbol: false,
    symbol: 'none',
    clip: true,
    lineStyle: { color: color, width: 1.1 },
    itemStyle: { color: color },
    emphasis: { disabled: true },
    z: 3
  };
}

const gridBox = { left: 117, right: 16, show: true, borderColor: '#999', borderWidth: 1, backgroundColor: 'transparent' };
const titleFont = { fontSize: 33, fontWeight: 'normal', fontFamily: SANS };

chart.setOption({
  backgroundColor: '#fff',
  animation: false,
  title: [
    { text: 'Injection Flow Rate', right: 7, top: 150, textStyle: Object.assign({ color: '#ff0000' }, titleFont) },
    { text: 'Surface Pressure', right: 5, top: 599, textStyle: Object.assign({ color: '#1f8a1f' }, titleFont) },
    { text: 'Downhole Pressure', right: 7, top: 1039, textStyle: Object.assign({ color: '#0000ff' }, titleFont) }
  ],
  grid: [
    Object.assign({ top: 193, height: 325 }, gridBox),
    Object.assign({ top: 642, height: 316 }, gridBox),
    Object.assign({ top: 1085, height: 324 }, gridBox)
  ],
  xAxis: [gridXAxis(0), gridXAxis(1), gridXAxis(2), labelXAxis(0), labelXAxis(1), labelXAxis(2)],
  yAxis: [
    yAxisFor(0, 0, 420, flowTicks, 'Injection Flow Rate (gpm)', { gap: 61, nameSize: 23, labelSize: 24, pad: [0, 60, 0, 0] }),
    yAxisFor(1, 3000, 5300, surfaceTicks, 'Surface Pressure (psi)', { gap: 67, nameSize: 25, labelSize: 23, pad: [0, 0, 0, 30] }),
    yAxisFor(2, 10800, 12300, downholeTicks, 'Downhole Pressure (psi)', { gap: 73, nameSize: 23, labelSize: 22, pad: [0, 10, 0, 0] })
  ],
  series: [
    lineSeries(0, flowRate, '#ff0000'),
    lineSeries(1, surfacePressure, '#1f8a1f'),
    lineSeries(2, downholePressure, '#0000ff')
  ]
});

// boundary lines run through all three panels, placed with the x scale
const graphics = [
  { type: 'rect', shape: { x: 0, y: 0, width: 1175, height: 8 }, style: { fill: '#e4e4e4' }, silent: true },
  { type: 'line', shape: { x1: 0, y1: 9, x2: 1175, y2: 9 }, style: { stroke: '#6e6e6e', lineWidth: 2 }, silent: true }
];
periodBounds.forEach(d => {
  const x = chart.convertToPixel({ xAxisIndex: 0 }, d);
  graphics.push({
    type: 'line', z: 100, silent: true,
    shape: { x1: x, y1: 16, x2: x, y2: 1456 },
    style: { stroke: '#000', lineWidth: 5, lineDash: [17, 9] }
  });
});
phaseBounds.forEach(d => {
  const x = chart.convertToPixel({ xAxisIndex: 0 }, d);
  graphics.push({
    type: 'line', z: 100, silent: true,
    shape: { x1: x, y1: 101, x2: x, y2: 1456 },
    style: { stroke: '#000', lineWidth: 4, lineDash: [5, 4] }
  });
});

const notes = [
  ['injection tests', 242, 76, 'center'],
  ['continuous', 491, 21, 'center'],
  ['injection,', 491, 50, 'center'],
  ['early period', 493, 79, 'center'],
  ['continuous injection,', 644, 21, 'left'],
  ['later period', 644, 50, 'left'],
  ['Phase I', 479, 161, 'center'],
  ['II', 550, 161, 'center'],
  ['III', 612, 161, 'center'],
  ['IV', 697, 161, 'center']
];
notes.forEach(n => {
  graphics.push({
    type: 'text', z: 101, silent: true,
    x: n[1], y: n[2],
    style: { text: n[0], fill: '#000', font: '25px ' + SERIF, align: n[3], verticalAlign: 'middle' }
  });
});

chart.setOption({ graphic: graphics });
</script>
</body>
</html>
